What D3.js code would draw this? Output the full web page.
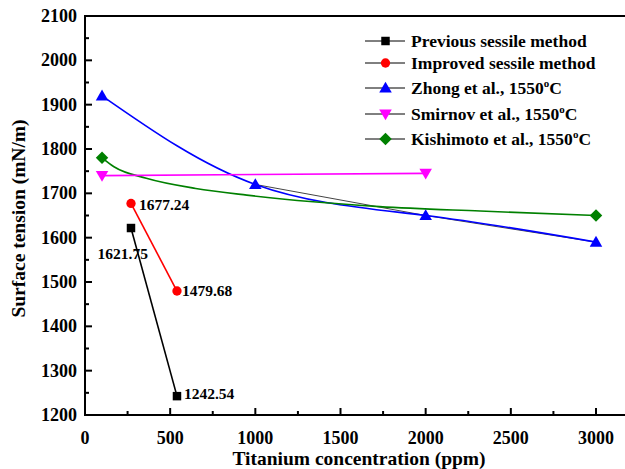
<!DOCTYPE html>
<html>
<head>
<meta charset="utf-8">
<script src="https://cdn.jsdelivr.net/npm/d3@7"></script>
<style>
  html, body { margin: 0; padding: 0; background: #fff; overflow: hidden; }
  svg text { font-family: "Liberation Serif", "Times New Roman", serif; font-weight: bold; fill: #000; }
</style>
</head>
<body>
<svg id="chart" width="625" height="469"></svg>
<script>
// Measured series (ppm, mN/m)
const previousX = [270, 540];
const previousY = [1621.75, 1242.54];
const improvedX = [270, 540];
const improvedY = [1677.24, 1479.68];
const zhongX = [100, 1000, 2000, 3000];
const zhongY = [1920, 1720, 1650, 1590];
const smirnovX = [100, 2000];
const smirnovY = [1740, 1745];
const kishimotoX = [100, 3000];
const kishimotoY = [1780, 1650];
// Kishimoto trend curve between its two end points
const kishimotoFitX = [100, 170, 360, 650, 950, 1340, 1730, 2320, 3000];
const kishimotoFitY = [1780, 1760, 1734, 1711, 1696, 1681, 1670, 1660, 1650];
const xTicks = [0, 500, 1000, 1500, 2000, 2500, 3000];
const yTicks = [1200, 1300, 1400, 1500, 1600, 1700, 1800, 1900, 2000, 2100];

const svg = d3.select("#chart");
const plotLeft = 85, plotTop = 16, plotBottom = 415;
const x = d3.scaleLinear().domain([0, 3000]).range([plotLeft, 596]);
const y = d3.scaleLinear().domain([1200, 2100]).range([plotBottom, plotTop]);
const xMax = x.invert(640);

const zip = (xs, ys) => xs.map((v, i) => [v, ys[i]]);
const line = d3.line().x(d => x(d[0])).y(d => y(d[1]));
const spline = d3.line().x(d => x(d[0])).y(d => y(d[1])).curve(d3.curveNatural);
const smooth = d3.line().x(d => x(d[0])).y(d => y(d[1])).curve(d3.curveMonotoneX);

// Connecting lines and trend curves
svg.append("path").attr("d", line(zip(zhongX.slice(1), zhongY.slice(1))))
  .attr("fill", "none").attr("stroke", "#444").attr("stroke-width", 1);
svg.append("path").attr("d", spline(zip(zhongX, zhongY)))
  .attr("fill", "none").attr("stroke", "#0000ff").attr("stroke-width", 1.6);
svg.append("path").attr("d", smooth(zip(kishimotoFitX, kishimotoFitY)))
  .attr("fill", "none").attr("stroke", "#008000").attr("stroke-width", 1.6);
svg.append("path").attr("d", line(zip(smirnovX, smirnovY)))
  .attr("fill", "none").attr("stroke", "#ff00ff").attr("stroke-width", 1.6);
svg.append("path").attr("d", line(zip(improvedX, improvedY)))
  .attr("fill", "none").attr("stroke", "#ff0000").attr("stroke-width", 1.6);
svg.append("path").attr("d", line(zip(previousX, previousY)))
  .attr("fill", "none").attr("stroke", "#000").attr("stroke-width", 1.6);

// Marker shapes
const sym = {
  square: d3.symbol().type(d3.symbolSquare).size(72),
  circle: d3.symbol().type(d3.symbolCircle).size(68),
  triUp: d3.symbol().type(d3.symbolTriangle).size(68),
  diamond: d3.symbol().type(d3.symbolSquare).size(78)
};
function markers(pts, shape, color, opts = {}) {
  svg.append("g").selectAll("path").data(pts).join("path")
    .attr("d", sym[shape]())
    .attr("fill", color)
    .attr("transform", d => `translate(${x(d[0])},${y(d[1]) + (opts.dy || 0)})` +
      (opts.rot ? ` rotate(${opts.rot})` : ""));
}
markers(zip(previousX, previousY), "square", "#000");
markers(zip(improvedX, improvedY), "circle", "#ff0000");
markers(zip(zhongX, zhongY), "triUp", "#0000ff", { dy: 1 });
markers(zip(smirnovX, smirnovY), "triUp", "#ff00ff", { rot: 180, dy: -1 });
markers(zip(kishimotoX, kishimotoY), "diamond", "#008000", { rot: 45 });

// Value labels
const vlab = svg.append("g").style("font-size", "15.5px");
vlab.append("text").attr("x", x(improvedX[0]) + 8).attr("y", y(improvedY[0]) + 7).text(improvedY[0].toFixed(2));
vlab.append("text").attr("x", x(previousX[0]) + 17).attr("y", y(previousY[0]) + 31)
  .attr("text-anchor", "end").text(previousY[0].toFixed(2));
vlab.append("text").attr("x", x(improvedX[1]) + 5).attr("y", y(improvedY[1]) + 4.5).text(improvedY[1].toFixed(2));
vlab.append("text").attr("x", x(previousX[1]) + 7).attr("y", y(previousY[1]) + 2.5).text(previousY[1].toFixed(2));

// Axes with inward ticks
const axG = svg.append("g");
const minorX = d3.range(250, 3200, 500);
const minorY = d3.range(1250, 2100, 100);
axG.selectAll(".xt").data(xTicks.slice(1)).join("line")
  .attr("x1", d => x(d)).attr("x2", d => x(d)).attr("y1", plotBottom).attr("y2", plotBottom - 7)
  .attr("stroke", "#000").attr("stroke-width", 2);
axG.selectAll(".xm").data(minorX).join("line")
  .attr("x1", d => x(d)).attr("x2", d => x(d)).attr("y1", plotBottom).attr("y2", plotBottom - 4)
  .attr("stroke", "#000").attr("stroke-width", 2);
axG.selectAll(".yt").data(yTicks.slice(1, -1)).join("line")
  .attr("x1", plotLeft).attr("x2", plotLeft + 7).attr("y1", d => y(d)).attr("y2", d => y(d))
  .attr("stroke", "#000").attr("stroke-width", 2);
axG.selectAll(".ym").data(minorY).join("line")
  .attr("x1", plotLeft).attr("x2", plotLeft + 4).attr("y1", d => y(d)).attr("y2", d => y(d))
  .attr("stroke", "#000").attr("stroke-width", 2);
axG.append("rect").attr("x", plotLeft).attr("y", plotTop)
  .attr("width", x(xMax) - plotLeft).attr("height", plotBottom - plotTop)
  .attr("fill", "none").attr("stroke", "#000").attr("stroke-width", 2);

const tl = svg.append("g").style("font-size", "18px");
tl.selectAll(".xl").data(xTicks).join("text")
  .attr("x", d => x(d)).attr("y", plotBottom + 29).attr("text-anchor", "middle").text(d => d);
tl.selectAll(".yl").data(yTicks).join("text")
  .attr("x", plotLeft - 8).attr("y", d => y(d) + 6).attr("text-anchor", "end").text(d => d);

svg.append("text").attr("x", 359).attr("y", 465).attr("text-anchor", "middle")
  .style("font-size", "19.5px").text("Titanium concentration (ppm)");
svg.append("text").attr("transform", `translate(25,${(plotTop + plotBottom) / 2 + 3}) rotate(-90)`)
  .attr("text-anchor", "middle").style("font-size", "19.5px").text("Surface tension (mN/m)");

// Legend
const legend = [
  { name: "Previous sessile method", shape: "square", color: "#000", y: 41 },
  { name: "Improved sessile method", shape: "circle", color: "#ff0000", y: 63 },
  { name: "Zhong et al., 1550", sup: true, shape: "triUp", color: "#0000ff", y: 88 },
  { name: "Smirnov et al., 1550", sup: true, shape: "triDown", color: "#ff00ff", y: 114 },
  { name: "Kishimoto et al., 1550", sup: true, shape: "diamond", color: "#008000", y: 139 }
];
const lg = svg.append("g");
legend.forEach(d => {
  lg.append("line").attr("x1", 365).attr("x2", 405).attr("y1", d.y).attr("y2", d.y)
    .attr("stroke", "#000").attr("stroke-width", 1);
  let shape = d.shape, rot = 0, dy = 0;
  if (shape === "triDown") { shape = "triUp"; rot = 180; dy = -1; }
  else if (shape === "triUp") dy = 1;
  if (shape === "diamond") rot = 45;
  lg.append("path").attr("d", sym[shape]()).attr("fill", d.color)
    .attr("transform", `translate(385.5,${d.y + dy}) rotate(${rot})`);
  const t = lg.append("text").attr("x", 411).attr("y", d.y + 6).style("font-size", "17.5px");
  t.append("tspan").text(d.name);
  if (d.sup) {
    t.append("tspan").attr("dy", -7.5).style("font-size", "11px").text("o");
    t.append("tspan").attr("dy", 7.5).text("C");
  }
});
</script>
</body>
</html>
